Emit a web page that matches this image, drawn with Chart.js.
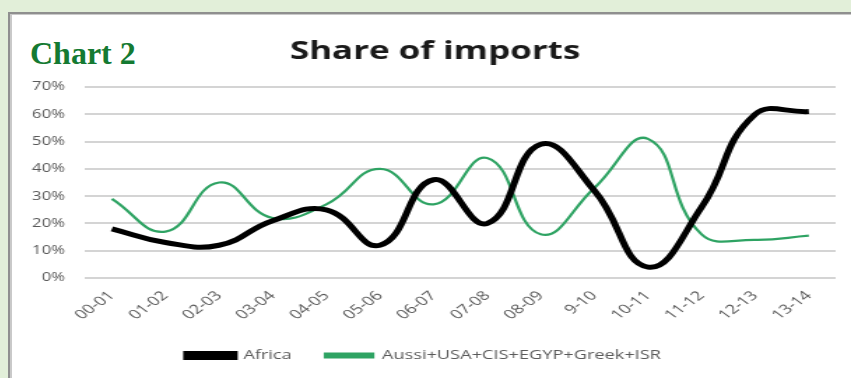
<!DOCTYPE html>
<html>
<head>
<meta charset="utf-8">
<script src="https://cdn.jsdelivr.net/npm/chart.js@4.4.0/dist/chart.umd.min.js"></script>
<style>
  html, body { margin: 0; padding: 0; }
  body { width: 851px; height: 378px; background: #e2efd9; position: relative; overflow: hidden; }
  .card {
    position: absolute; left: 8px; top: 12px; width: 900px; height: 400px;
    background: #fff;
    border-left: 2px solid #8f8f8f; border-top: 2px solid #8f8f8f;
    box-shadow: inset 2px 1px 0 #c9c9c9;
  }
  .tag {
    position: absolute; left: 30px; top: 37px;
    font: bold 32px/32px "Liberation Serif", serif; color: #147a32;
  }
  #chart { position: absolute; left: 12px; top: 15px; }
</style>
</head>
<body>
<div class="card"></div>
<div class="tag">Chart 2</div>
<canvas id="chart" width="600" height="363" style="width: 839px; height: 363px;"></canvas>
<script>
const years = ['00-01', '01-02', '02-03', '03-04', '04-05', '05-06', '06-07',
               '07-08', '08-09', '9-10', '10-11', '11-12', '12-13', '13-14'];
const africa = [18, 13, 12, 21, 25, 12, 36, 20, 49, 32, 4, 26, 60, 61];
const others = [29, 17, 35, 22, 27, 40, 27, 44, 16, 33, 51, 16, 14, 15.5];
const seriesNames = ['Africa', 'Aussi+USA+CIS+EGYP+Greek+ISR'];
const percentTicks = [0, 10, 20, 30, 40, 50, 60, 70];

Chart.defaults.font.family = '"Open Sans", sans-serif';
Chart.defaults.color = '#595959';

// nudge the title a little right of the canvas centre
const titleNudge = {
    id: 'titleNudge',
    afterLayout(chart) {
        const t = chart.titleBlock;
        if (t) { t.left += 8; t.right += 8; }
    }
};

// canvas is drawn narrow and shown wider (inline style), so everything gets the stretched look
new Chart(document.getElementById('chart'), {
    type: 'line',
    plugins: [titleNudge],
    data: {
        labels: years,
        datasets: [
            {
                label: seriesNames[0],
                data: africa,
                borderColor: '#000',
                backgroundColor: '#000',
                borderWidth: 5,
                tension: 0.45,
                pointRadius: 0
            },
            {
                label: seriesNames[1],
                data: others,
                borderColor: '#2ea363',
                backgroundColor: '#2ea363',
                borderWidth: 2.2,
                tension: 0.45,
                pointRadius: 0
            }
        ]
    },
    options: {
        responsive: false,
        animation: false,
        devicePixelRatio: 1,
        layout: { padding: { left: 0, right: 11, top: 0, bottom: 6 } },
        plugins: {
            title: {
                display: true,
                text: 'Share of imports',
                color: '#1a1a1a',
                font: { size: 25, weight: 'bold' },
                padding: { top: 22, bottom: 20 }
            },
            legend: {
                position: 'bottom',
                labels: {
                    boxWidth: 34,
                    boxHeight: 4,
                    padding: 24,
                    font: { size: 13 }
                }
            },
            tooltip: { enabled: false }
        },
        scales: {
            x: {
                offset: true,
                grid: { display: false },
                border: { display: false },
                ticks: { minRotation: 45, maxRotation: 45, font: { size: 13 }, padding: 2 },
                // rotated first label shouldn't push the plot to the right
                afterFit: axis => { axis.paddingLeft = 0; axis.paddingRight = 0; }
            },
            y: {
                min: 0,
                max: 70,
                afterBuildTicks: axis => { axis.ticks = percentTicks.map(v => ({ value: v })); },
                grid: { color: '#d4d4d4', lineWidth: 2, drawTicks: false },
                border: { display: false },
                ticks: { callback: v => v + '%', font: { size: 12 }, padding: 14.3 }
            }
        }
    }
});
</script>
</body>
</html>
